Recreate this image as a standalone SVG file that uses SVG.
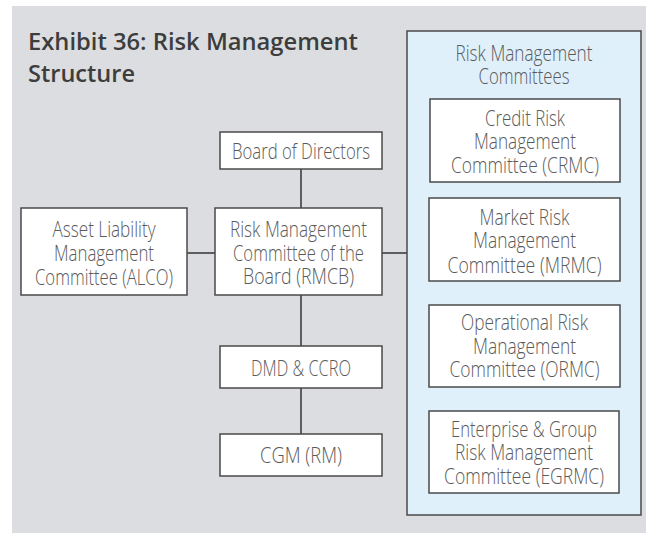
<svg xmlns="http://www.w3.org/2000/svg" width="646" height="533" viewBox="0 0 646 533">
<style>
.box{fill:#ffffff;stroke:#4a4a4a;stroke-width:1.5}
.panel{fill:#dff0fb;stroke:#4a4a4a;stroke-width:1.5}
.t{font-family:"Open Sans","Liberation Sans",sans-serif;font-weight:300;font-size:22px;fill:#5a5a5a;text-anchor:middle}
.title{font-family:"Open Sans","Liberation Sans",sans-serif;font-weight:600;font-size:23px;fill:#3d3d3d}
.c{stroke:#333333;stroke-width:1.5;fill:none}
</style>
<rect x="12" y="6" width="634" height="527" fill="#dcdde0"/>
<g id="title">
<text class="title" x="28" y="50" textLength="330" lengthAdjust="spacingAndGlyphs">Exhibit 36: Risk Management</text>
<text class="title" x="28" y="82" textLength="107" lengthAdjust="spacingAndGlyphs">Structure</text>
</g>
<g id="connectors">
<line class="c" x1="301" y1="169" x2="301" y2="208"/>
<line class="c" x1="301" y1="295" x2="301" y2="346"/>
<line class="c" x1="301" y1="388" x2="301" y2="434"/>
<line class="c" x1="187" y1="253" x2="215" y2="253"/>
<line class="c" x1="382" y1="253" x2="407" y2="253"/>
</g>
<g id="committees">
<rect class="panel" x="407" y="31" width="234" height="484"/>
<text class="t" x="524" y="61" textLength="137" lengthAdjust="spacingAndGlyphs">Risk Management</text>
<text class="t" x="524" y="84" textLength="91" lengthAdjust="spacingAndGlyphs">Committees</text>
</g>
<g id="crmc">
<rect class="box" x="430" y="99" width="190" height="83"/>
<text class="t" x="525" y="126" textLength="80" lengthAdjust="spacingAndGlyphs">Credit Risk</text>
<text class="t" x="525" y="149" textLength="102" lengthAdjust="spacingAndGlyphs">Management</text>
<text class="t" x="525" y="173" textLength="148" lengthAdjust="spacingAndGlyphs">Committee (CRMC)</text>
</g>
<g id="mrmc">
<rect class="box" x="429" y="198" width="191" height="83"/>
<text class="t" x="524.5" y="225" textLength="90" lengthAdjust="spacingAndGlyphs">Market Risk</text>
<text class="t" x="524.5" y="248" textLength="103" lengthAdjust="spacingAndGlyphs">Management</text>
<text class="t" x="524.5" y="273" textLength="154" lengthAdjust="spacingAndGlyphs">Committee (MRMC)</text>
</g>
<g id="ormc">
<rect class="box" x="429" y="305" width="191" height="82"/>
<text class="t" x="524.5" y="330" textLength="127" lengthAdjust="spacingAndGlyphs">Operational Risk</text>
<text class="t" x="524.5" y="354" textLength="103" lengthAdjust="spacingAndGlyphs">Management</text>
<text class="t" x="524.5" y="377" textLength="150" lengthAdjust="spacingAndGlyphs">Committee (ORMC)</text>
</g>
<g id="egrmc">
<rect class="box" x="429" y="411" width="190" height="82"/>
<text class="t" x="524" y="437" textLength="146" lengthAdjust="spacingAndGlyphs">Enterprise &amp; Group</text>
<text class="t" x="524" y="460" textLength="138" lengthAdjust="spacingAndGlyphs">Risk Management</text>
<text class="t" x="524" y="484" textLength="160" lengthAdjust="spacingAndGlyphs">Committee (EGRMC)</text>
</g>
<g id="board">
<rect class="box" x="220" y="132" width="162" height="37"/>
<text class="t" x="301" y="159" textLength="138" lengthAdjust="spacingAndGlyphs">Board of Directors</text>
</g>
<g id="rmcb">
<rect class="box" x="215" y="208" width="167" height="87"/>
<text class="t" x="298.5" y="237" textLength="137" lengthAdjust="spacingAndGlyphs">Risk Management</text>
<text class="t" x="298.5" y="261" textLength="131" lengthAdjust="spacingAndGlyphs">Committee of the</text>
<text class="t" x="298.5" y="284" textLength="111" lengthAdjust="spacingAndGlyphs">Board (RMCB)</text>
</g>
<g id="alco">
<rect class="box" x="21" y="208" width="166" height="87"/>
<text class="t" x="104" y="237" textLength="103" lengthAdjust="spacingAndGlyphs">Asset Liability</text>
<text class="t" x="104" y="261" textLength="100" lengthAdjust="spacingAndGlyphs">Management</text>
<text class="t" x="104" y="285" textLength="138" lengthAdjust="spacingAndGlyphs">Committee (ALCO)</text>
</g>
<g id="dmd">
<rect class="box" x="220" y="346" width="162" height="42"/>
<text class="t" x="301" y="376" textLength="100" lengthAdjust="spacingAndGlyphs">DMD &amp; CCRO</text>
</g>
<g id="cgm">
<rect class="box" x="220" y="434" width="162" height="42"/>
<text class="t" x="301" y="463" textLength="82" lengthAdjust="spacingAndGlyphs">CGM (RM)</text>
</g>
</svg>
